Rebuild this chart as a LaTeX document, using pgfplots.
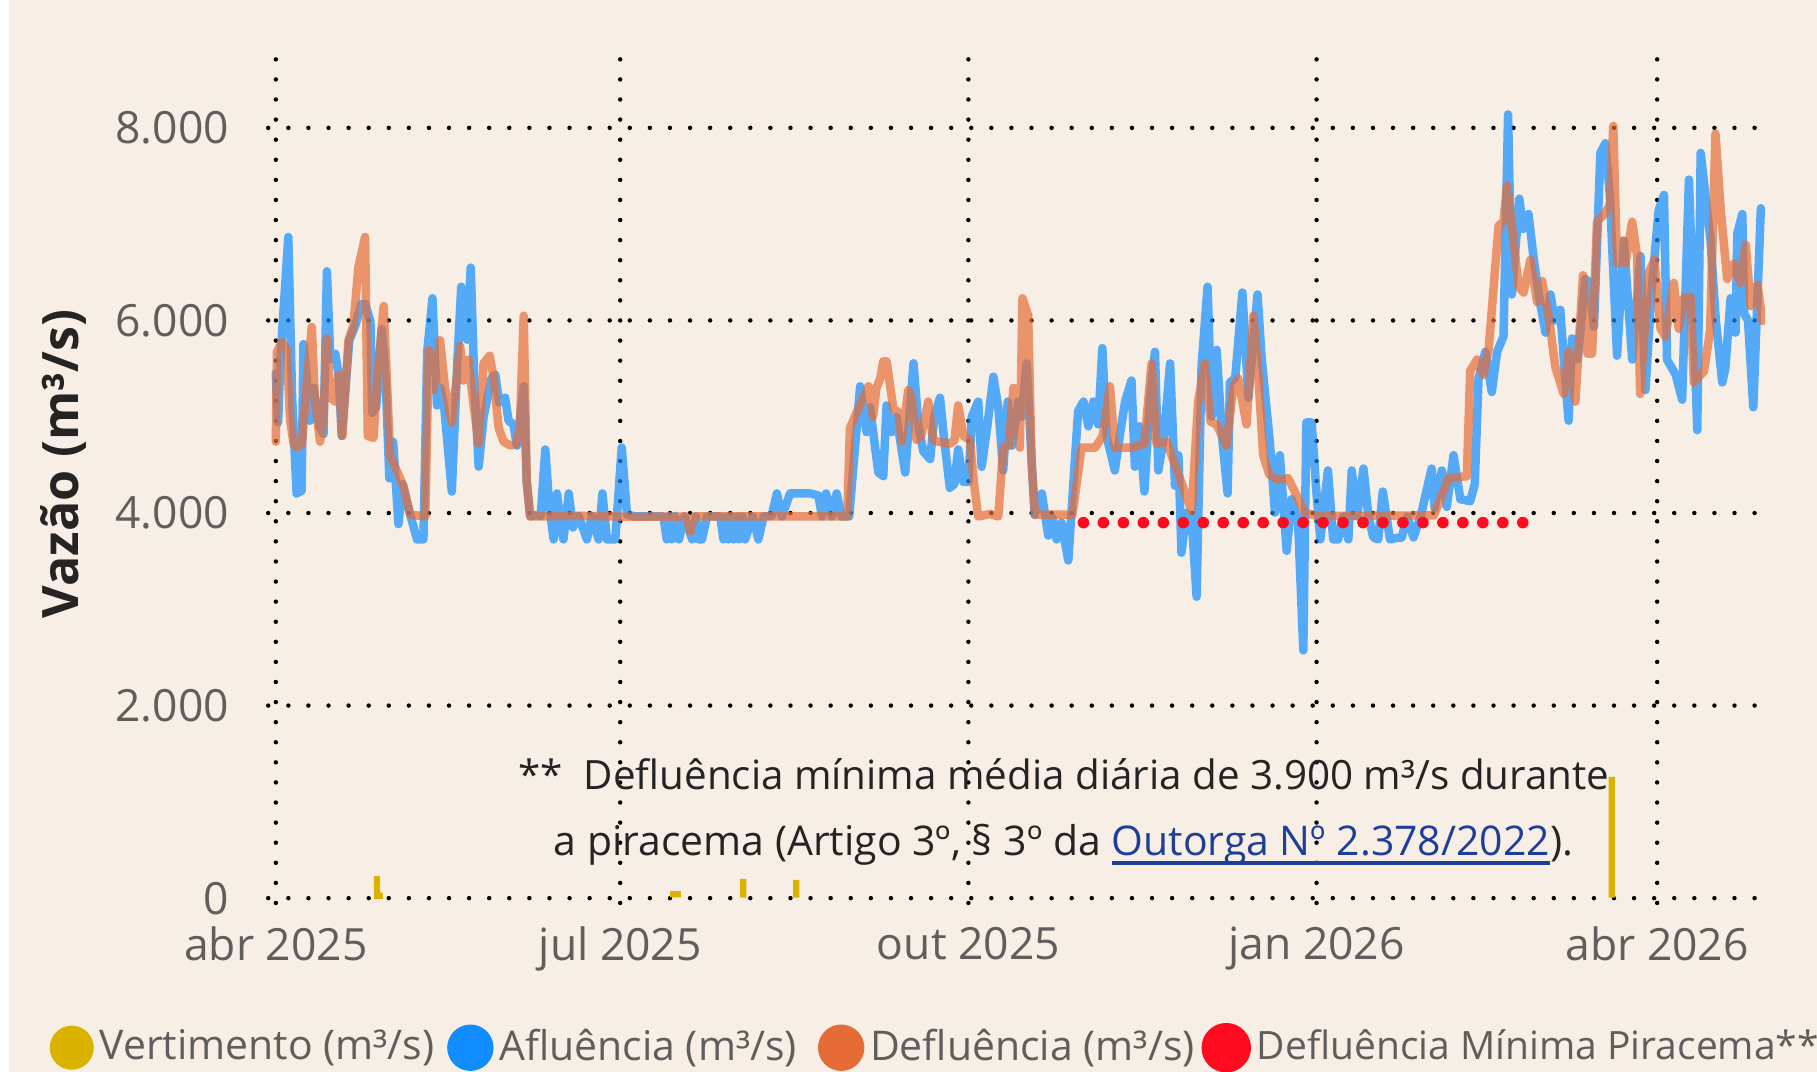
\documentclass[border=0pt]{standalone}
\usepackage{fontspec}
\setmainfont{Open Sans}
\usepackage{pgfplots}
\pgfplotsset{compat=1.18}
\definecolor{bg}{HTML}{F7EFE5}
\definecolor{tickgray}{HTML}{605E5C}
\definecolor{dark}{HTML}{252423}
\definecolor{cblue}{HTML}{118DFF}
\definecolor{corange}{HTML}{E66C37}
\definecolor{cgold}{HTML}{D9B300}
\definecolor{cred}{HTML}{FF0A1E}
\definecolor{clink}{HTML}{1F3F97}
\newcommand{\tickfont}{\fontsize{11.5}{13}\selectfont}
\newcommand{\legfont}{\fontsize{10.6}{12}\selectfont}
\newcommand{\notefont}{\fontsize{10.45}{12}\selectfont}
\newcommand{\myul}[1]{\setbox0\hbox{#1}\rlap{\raisebox{-2.4pt}{\rule{\wd0}{0.8pt}}}\box0}
\begin{document}
\begin{tikzpicture}[x=0.3pt,y=0.3pt]
\useasboundingbox (0,0) rectangle (1568,925);
\clip (0,0) rectangle (1568,925);
\fill[bg] (0,0) rectangle (1568,925);
\fill[white] (0,0) rectangle (7.5,925);
\begin{axis}[
  at={(69.45pt,43.74pt)}, anchor=south west,
  scale only axis, width=387.5pt, height=223.1pt,
  xmin=-2, xmax=393.5, ymin=-50, ymax=8900,
  axis line style={draw=none},
  major tick length=0pt,
  xtick={0,91,183,275,365},
  xticklabels={abr 2025,jul 2025,out 2025,jan 2026,abr 2026},
  ytick={0,2000,4000,6000,8000},
  yticklabels={0,2.000,4.000,6.000,8.000},
  grid=major,
  major grid style={black, line width=1.15pt, line cap=round, dash pattern=on 0pt off 5.2pt},
  tick label style={font=\tickfont, text=tickgray},
  yticklabel style={anchor=east, inner sep=0pt, xshift=-10pt},
  xticklabel style={anchor=north, inner sep=0pt, yshift=-6pt},
  every axis y label/.style={at={(axis description cs:-0.1366,0.5096)}, rotate=90, anchor=center},
  ylabel={Vazão (m³/s)},
  ylabel style={font=\bfseries\fontsize{13}{15}\selectfont, text=dark},
  legend style={at={(axis description cs:-0.146,-0.168)}, anchor=west, draw=none, fill=none,
    inner sep=0pt, outer sep=0pt, font=\legfont, text=tickgray,
    nodes={inner sep=0pt, outer sep=0pt},
    /tikz/every odd column/.style={column sep=1.5pt},
    /tikz/every even column/.style={column sep=0pt}},
  legend columns=4, legend cell align=left,
  clip=true,
]
\addplot[cgold, line width=1.6pt, unbounded coords=jump,
  legend image code/.code={\fill[cgold, opacity=1, solid] (4.9pt,0pt) circle (4.9pt);}]
  coordinates {(26.7,230)(26.8,25)(28.3,25)(50,nan)(104.2,40)(107,40)(115,nan)
  (123.5,5)(123.5,200)(130,nan)(137.5,5)(137.5,190)(145,nan)(353,5)(353,1260)};
\addlegendentry{\makebox[90pt][l]{Vertimento (m³/s)}}

\addplot[cblue, draw opacity=0.7, line width=2.2pt, line join=round, line cap=round,
  legend image code/.code={\fill[cblue, opacity=1, solid] (4.9pt,0pt) circle (4.9pt);}]
  coordinates {
  (0,5450)(0.6,4940)(1.2,5600)(3.3,6867)(4.3,5200)(5.5,4203)(6.8,4230)(7.3,5754)(8,5500)
  (9,4958)(10,5300)(11.5,4900)(12.6,4820)(13.5,6510)(14.4,5600)(15.7,5654)(16.6,5435)
  (17.4,4800)(19.4,5790)(21,5950)(22.6,6170)(23.6,6170)(25,5990)(25.5,5040)(26.5,5100)
  (28,5910)(29,5400)(30,4360)(31,4740)(32.4,3885)(33.5,4300)(35.5,3984)(37.3,3726)
  (39,3726)(40,5674)(41.4,6230)(42.6,5117)(43.5,5300)(44.5,5100)(46.5,4223)(48,5600)
  (49,6350)(50.5,5800)(51.5,6549)(52.5,5300)(53.6,4481)(54.9,5000)(57,5400)(58,5435)
  (59,5150)(60.6,5197)(61.5,4958)(62.8,4919)(63.7,4700)(65.5,5316)(66.3,4322)(67.2,3964)
  (68.5,3980)(70,3970)(71.2,4660)(72.2,4100)(73.4,3726)(74.3,4203)(75.2,3900)(76,3726)
  (77.4,4203)(78.5,3850)(80,3970)(82.2,3726)(83.5,3970)(85.3,3726)(86.3,4203)(87.5,3726)
  (89.7,3726)(91.4,4680)(92.8,3984)(95,3964)(102.4,3964)(103.3,3726)(104,3970)(104.6,3726)
  (105.5,3970)(106.5,3726)(108,3964)(110,3726)(111,3964)(111.7,3726)(112.6,3726)(113.9,3964)
  (117.4,3964)(118.3,3726)(119.2,3964)(119.6,3726)(120.5,3964)(121,3726)(122,3964)
  (122.4,3726)(123.3,3964)(124,3726)(126,3964)(127.5,3726)(128.9,3964)(131,3970)
  (132.4,4203)(133.7,3964)(135.9,4203)(141.2,4203)(143.4,4180)(144.3,3964)(145.4,4203)
  (146.9,3964)(148.2,4203)(149.5,3964)(151.5,3964)(154.4,5316)(156.1,4840)(157,5100)
  (159.2,4420)(160.5,4383)(161.4,5117)(162.7,4840)(164,5000)(166.3,4420)(168.5,5555)
  (169.8,4900)(171.1,4640)(172.9,4560)(174,5000)(175.5,5197)(176.5,4800)(178.1,4262)
  (179.3,4300)(180.3,4660)(181.7,4322)(183,4322)(183.9,5000)(185.6,5157)(186.5,4480)
  (188,4900)(189.6,5416)(190.9,5100)(192.2,4442)(193.4,5157)(194.5,4700)(196.2,5157)
  (197,5000)(198.4,5554)(199.5,4700)(200.5,3980)(202.4,4203)(204.1,3766)(205.2,3950)
  (206.3,3726)(207.6,3900)(209.4,3507)(212,5058)(213.4,5157)(214.7,4900)(216,5157)
  (217.3,4920)(218.4,5713)(219.5,4800)(221.7,4442)(223,4800)(224.4,5157)(226.1,5376)
  (227,4480)(228.2,4900)(229.5,4223)(231,5200)(232.3,5674)(233.2,4442)(234.7,4800)
  (236.3,5554)(237.6,4282)(238.5,4600)(239.3,3587)(240.6,4000)(242,3950)(243.3,3130)
  (244.6,5515)(246.2,6350)(247.3,5000)(248.6,5694)(250,4800)(251.5,4203)(252.1,5356)
  (253.5,5400)(255.4,6290)(257,5197)(259.4,6270)(260.5,5600)(262.7,4720)(264,4004)
  (265.3,4600)(267.1,3607)(268.4,4143)(270.1,3924)(271.5,2573)(272.3,4940)(273.7,4940)
  (275,4200)(276,3726)(278,4442)(279.4,3726)(280.7,3726)(282,3964)(283.4,3726)(284.3,4442)
  (285.7,3964)(287.4,4462)(288.7,3964)(290,3746)(291.3,3726)(292.5,4223)(294.4,3726)
  (296,3740)(297.5,3746)(299,3964)(300.6,3746)(302.5,3964)(305.4,4462)(306.2,4050)
  (308.1,4442)(309.4,4064)(311.2,4600)(313,4143)(315.6,4123)(316.8,4300)(317.8,5396)
  (319.6,5674)(321.3,5257)(322.7,5674)(324.4,5833)(325.6,8140)(326.6,6270)(328.6,7264)
  (329.5,6950)(331,7105)(332.5,6600)(334,6200)(335.5,5873)(336.8,6270)(338,6000)
  (339.4,6110)(340.5,5500)(341.6,4958)(342.5,5813)(344,5600)(346,6430)(347,6400)
  (348.3,5933)(350,7740)(351.3,7840)(352.5,7300)(354.4,5634)(356.2,6830)(358.4,5594)
  (360.6,6668)(361.9,5277)(363.5,6300)(365.4,7145)(366.8,7304)(367.6,5594)(369.9,5436)
  (371.6,5177)(373.4,7463)(375.6,4860)(376.5,7740)(379.1,6827)(380.5,6000)(382.2,5356)
  (383,5500)(384.4,6230)(385.7,5873)(386.2,6907)(387.5,7105)(388,6070)(389,6000)
  (390.4,5098)(392.4,7165)};
\addlegendentry{\makebox[82.5pt][l]{Afluência (m³/s)}}

\addplot[corange, draw opacity=0.7, line width=2.2pt, line join=round, line cap=round,
  legend image code/.code={\fill[corange, opacity=1, solid] (4.9pt,0pt) circle (4.9pt);}]
  coordinates {
  (0,4740)(0.3,5674)(1.6,5774)(2.9,5700)(3.8,4958)(4.7,4720)(5.5,4680)(6.9,4720)
  (8.5,5500)(9.5,5933)(10.3,5200)(11.7,4740)(12.6,5000)(13.5,5813)(14.4,5197)(15.7,5157)
  (16.6,5435)(17.6,4800)(19.2,5794)(20.5,5950)(21.8,6549)(23.6,6867)(24.3,4800)
  (25.8,4780)(27,5500)(28.5,6150)(30.2,4600)(31.5,4480)(33.7,4282)(35.5,3984)(39.5,3964)
  (40.4,5694)(41.7,5276)(43.4,5794)(44.7,5300)(46.5,4939)(47.5,5300)(48.7,5734)
  (49.6,5376)(50.9,5594)(52,5200)(53.6,4720)(54.9,5554)(56.5,5634)(57.5,5416)(58.9,4880)
  (60.2,4740)(62,4700)(63.5,4720)(64.5,4900)(65.5,6050)(66.3,4322)(67.2,3964)(80,3970)
  (95,3960)(108.5,3964)(109.5,3810)(110.5,3964)(130,3964)(151,3964)(151.7,4880)
  (153,5000)(156.6,5316)(157.8,5000)(158.7,5300)(159.7,5395)(160.5,5574)(161.4,5574)
  (163.2,5077)(164.5,5050)(165.4,4740)(167.1,5276)(168,5200)(169.3,4760)(170.5,4800)
  (172.4,5157)(173.7,4760)(175.1,4740)(178,4720)(179.3,4750)(180.3,5117)(181.7,4800)
  (183.4,4760)(184.5,4300)(185.6,3964)(188.7,3990)(190.9,3964)(192.2,4680)(193.7,4700)
  (194.9,5300)(196.6,4680)(197.3,6230)(198.8,6050)(199.7,4520)(200.6,3984)(210.5,3984)
  (212.9,4680)(216.5,4680)(218.5,4800)(220.4,5316)(221.7,4680)(226.1,4680)(227.9,4700)
  (229.5,4720)(231.4,5555)(232.7,4720)(235.4,4740)(242,4020)(243.7,5157)(245.5,5555)
  (247,4950)(248.6,4920)(251.2,4700)(253,5316)(254.3,5395)(256.5,4920)(258.3,6050)
  (259.5,5500)(260.9,4600)(262.5,4400)(264.9,4342)(267.5,4362)(271.9,4004)(275,3970)
  (306,3975)(309.9,4362)(314.7,4382)(315.6,5475)(317.4,5594)(319.1,5436)(320.5,5713)
  (323.1,6986)(324.4,7025)(325.3,7400)(326.6,6986)(328.4,6350)(329.7,6290)(331.5,6628)
  (333.3,6190)(334.6,6410)(336.5,6000)(338.1,5515)(340.3,5237)(341.6,5674)(343.4,5157)
  (345.4,6470)(346.6,5654)(347.8,5654)(349.1,7025)(351.1,7105)(352.5,7200)(353.4,8020)
  (354.4,6590)(355.7,6827)(356.6,6590)(358.4,7025)(359.7,6668)(360.5,5237)(362.8,6500)
  (364.3,6628)(365.9,5913)(367.2,5833)(369.4,6390)(370.7,5913)(372.1,6230)(373.8,6250)
  (374.7,5356)(377.4,5475)(379,5900)(380.4,7940)(381.8,7145)(383.5,6430)(385.3,6590)
  (387,6390)(388.4,6787)(389.7,6150)(391.5,6370)(392.8,5993)};
\addlegendentry{\makebox[85.8pt][l]{Defluência (m³/s)}}

\addplot[cred, line width=3pt, line cap=round, dash pattern=on 0pt off 5.17pt,
  legend image code/.code={\fill[cred, opacity=1, solid] (4.9pt,0pt) circle (4.9pt);}]
  coordinates {(213.4,3900)(330.2,3900)};
\addlegendentry{{\fontsize{10.1}{12}\selectfont Defluência Mínima Piracema**}}

\node[anchor=base, font=\notefont, text=dark, inner sep=0pt]
  at (axis cs:208.2,1131) {**\ \ Defluência mínima média diária de 3.900 m³/s durante};
\node[anchor=base, font=\fontsize{10.6}{12}\selectfont, text=dark, inner sep=0pt]
  at (axis cs:208.1,445) {a piracema (Artigo 3º, § 3º da \textcolor{clink}{\myul{Outorga Nº 2.378/2022}}).};
\end{axis}
\end{tikzpicture}
\end{document}
